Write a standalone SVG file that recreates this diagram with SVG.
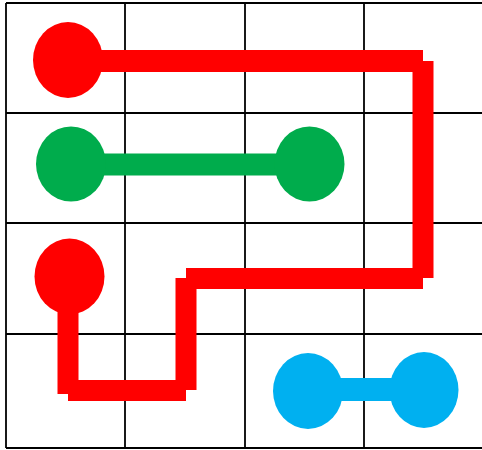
<svg xmlns="http://www.w3.org/2000/svg" width="482" height="450" viewBox="0 0 482 450">
<style>
.grid line{stroke:#000000;stroke-width:1.8}
.red{stroke:#ff0000;stroke-width:21;stroke-linecap:butt;fill:none}
.green{stroke:#00ac4c;stroke-width:22;fill:none}
.blue{stroke:#00b0f0;stroke-width:23;fill:none}
</style>
<rect width="482" height="450" fill="#ffffff"/>
<g class="grid" id="grid">
<line x1="6" y1="3" x2="6" y2="448"/>
<line x1="125" y1="3" x2="125" y2="448"/>
<line x1="245" y1="3" x2="245" y2="448"/>
<line x1="364" y1="3" x2="364" y2="448"/>
<line x1="6" y1="3" x2="482" y2="3"/>
<line x1="6" y1="113" x2="482" y2="113"/>
<line x1="6" y1="223" x2="482" y2="223"/>
<line x1="6" y1="334" x2="482" y2="334"/>
<line x1="6" y1="448" x2="482" y2="448"/>
</g>
<g id="connectors">
<line class="red" x1="68" y1="61" x2="423" y2="61" style="stroke-width:22"/>
<line class="red" x1="423" y1="61" x2="423" y2="278"/>
<line class="red" x1="423" y1="278.5" x2="186" y2="278.5"/>
<line class="red" x1="186" y1="278" x2="186" y2="390"/>
<line class="red" x1="186" y1="390.5" x2="68" y2="390.5"/>
<line class="red" x1="68" y1="277" x2="68" y2="394"/>
<line class="green" x1="71" y1="164.5" x2="309" y2="164.5"/>
<line class="blue" x1="308" y1="389.5" x2="424" y2="389.5"/>
</g>
<g id="red-top"><ellipse cx="68" cy="60" rx="35" ry="38" fill="#ff0000"/></g>
<g id="red-bottom"><ellipse cx="69.5" cy="276.5" rx="35" ry="38" fill="#ff0000"/></g>
<g id="green-left"><ellipse cx="71" cy="164" rx="35" ry="37.5" fill="#00ac4c"/></g>
<g id="green-right"><ellipse cx="309.5" cy="164" rx="35" ry="37.5" fill="#00ac4c"/></g>
<g id="blue-left"><ellipse cx="308" cy="391" rx="35" ry="38" fill="#00b0f0"/></g>
<g id="blue-right"><ellipse cx="424" cy="390" rx="34.5" ry="38" fill="#00b0f0"/></g>
</svg>
